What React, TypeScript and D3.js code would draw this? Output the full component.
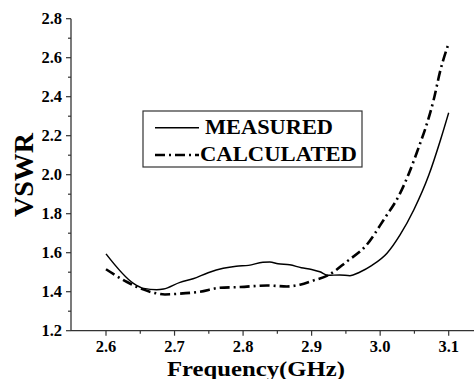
import React, { useEffect, useRef } from 'react';
import * as d3 from 'd3';

// frequency (GHz) / VSWR
const measuredFreq = [2.6, 2.64, 2.655, 2.674, 2.684, 2.708, 2.727, 2.749, 2.771, 2.79, 2.808, 2.829, 2.839, 2.851, 2.868, 2.885, 2.9, 2.912, 2.924, 2.941, 2.956, 2.97, 2.988, 3.01, 3.029, 3.049, 3.071, 3.088, 3.1];
const measuredVswr = [1.594, 1.443, 1.417, 1.41, 1.414, 1.448, 1.466, 1.497, 1.52, 1.531, 1.535, 1.551, 1.552, 1.543, 1.538, 1.523, 1.514, 1.502, 1.484, 1.486, 1.482, 1.5, 1.535, 1.597, 1.691, 1.819, 1.998, 2.178, 2.318];

const calcFreq = [2.6, 2.63, 2.65, 2.669, 2.686, 2.708, 2.737, 2.766, 2.796, 2.835, 2.864, 2.883, 2.903, 2.924, 2.951, 2.98, 3.005, 3.029, 3.053, 3.078, 3.088, 3.1];
const calcVswr = [1.515, 1.451, 1.417, 1.395, 1.386, 1.39, 1.4, 1.42, 1.424, 1.432, 1.427, 1.436, 1.458, 1.484, 1.554, 1.639, 1.768, 1.904, 2.109, 2.383, 2.537, 2.674];

const xTicks = [2.6, 2.7, 2.8, 2.9, 3.0, 3.1];
const yTicks = [1.2, 1.4, 1.6, 1.8, 2.0, 2.2, 2.4, 2.6, 2.8];
const legendLabels = ['MEASURED', 'CALCULATED'];

export default function App() {
  const svgRef = useRef<SVGSVGElement>(null);
  const width = 474;
  const height = 379;

  useEffect(() => {
    if (!svgRef.current) return;
    const svg = d3.select(svgRef.current);
    svg.selectAll('*').remove();

    const font = '"Liberation Serif", "Times New Roman", serif';
    const axisColor = '#333';

    const x = d3.scaleLinear().domain([2.6, 3.1]).range([106, 448.7]);
    const y = d3.scaleLinear().domain([1.2, 2.8]).range([330.7, 18.7]);
    const x0 = 71;
    const y0 = y(1.2);

    // axes lines
    svg.append('line').attr('x1', x0).attr('x2', width).attr('y1', y0).attr('y2', y0).attr('stroke', axisColor).attr('stroke-width', 1.3);
    svg.append('line').attr('x1', x0).attr('x2', x0).attr('y1', y(2.8)).attr('y2', y0).attr('stroke', axisColor).attr('stroke-width', 1.3);

    // x ticks (major + minor, outward)
    const xMinor = d3.range(2.55, 3.15, 0.05).filter(v => xTicks.every(t => Math.abs(t - v) > 1e-6));
    svg.append('g').selectAll('line.maj').data(xTicks).join('line')
      .attr('x1', d => x(d)).attr('x2', d => x(d)).attr('y1', y0).attr('y2', y0 + 5)
      .attr('stroke', axisColor).attr('stroke-width', 1.2);
    svg.append('g').selectAll('line.min').data(xMinor.filter(v => x(v) > x0 + 2 && x(v) < width)).join('line')
      .attr('x1', d => x(d)).attr('x2', d => x(d)).attr('y1', y0).attr('y2', y0 + 3)
      .attr('stroke', axisColor).attr('stroke-width', 1.2);
    svg.append('g').selectAll('text').data(xTicks).join('text')
      .attr('x', d => x(d)).attr('y', 351.5).attr('text-anchor', 'middle')
      .style('font-family', font).style('font-weight', 'bold').style('font-size', '16.5px')
      .text(d => d.toFixed(1));

    // y ticks
    const yMinor = d3.range(1.3, 2.8, 0.2);
    svg.append('g').selectAll('line').data(yTicks).join('line')
      .attr('x1', x0 - 5).attr('x2', x0).attr('y1', d => y(d)).attr('y2', d => y(d))
      .attr('stroke', axisColor).attr('stroke-width', 1.2);
    svg.append('g').selectAll('line').data(yMinor).join('line')
      .attr('x1', x0 - 3).attr('x2', x0).attr('y1', d => y(d)).attr('y2', d => y(d))
      .attr('stroke', axisColor).attr('stroke-width', 1.2);
    svg.append('g').selectAll('text').data(yTicks).join('text')
      .attr('x', 62).attr('y', d => y(d) + 5.5).attr('text-anchor', 'end')
      .style('font-family', font).style('font-weight', 'bold').style('font-size', '16.5px')
      .text(d => d.toFixed(1));

    // axis titles
    svg.append('text').attr('x', 256).attr('y', 375.5).attr('text-anchor', 'middle')
      .attr('textLength', 178).attr('lengthAdjust', 'spacingAndGlyphs')
      .style('font-family', font).style('font-weight', 'bold').style('font-size', '21px')
      .text('Frequency(GHz)');
    svg.append('text').attr('transform', 'translate(33,175) rotate(-90)').attr('text-anchor', 'middle')
      .style('font-family', font).style('font-weight', 'bold').style('font-size', '28px')
      .text('VSWR');

    // curves
    const line = d3.line<[number, number]>().x(d => x(d[0])).y(d => y(d[1])).curve(d3.curveMonotoneX);
    const measured = measuredFreq.map((f, i) => [f, measuredVswr[i]] as [number, number]);
    const calc = calcFreq.map((f, i) => [f, calcVswr[i]] as [number, number]);
    svg.append('path').datum(calc).attr('fill', 'none').attr('stroke', '#000').attr('stroke-width', 2.6)
      .attr('stroke-dasharray', '10,4,2,4').attr('d', line);
    svg.append('path').datum(measured).attr('fill', 'none').attr('stroke', '#000').attr('stroke-width', 1.5)
      .attr('d', line);

    // legend
    const lg = svg.append('g');
    lg.append('rect').attr('x', 143).attr('y', 111).attr('width', 219).attr('height', 56)
      .attr('fill', '#fff').attr('stroke', axisColor).attr('stroke-width', 1.2);
    lg.append('line').attr('x1', 155).attr('x2', 199).attr('y1', 127.7).attr('y2', 127.7)
      .attr('stroke', '#000').attr('stroke-width', 1.5);
    lg.append('line').attr('x1', 155).attr('x2', 199).attr('y1', 155).attr('y2', 155)
      .attr('stroke', '#000').attr('stroke-width', 2.6).attr('stroke-dasharray', '10,4,2,4');
    lg.append('text').attr('x', 205).attr('y', 133.5).attr('textLength', 128).attr('lengthAdjust', 'spacingAndGlyphs')
      .style('font-family', font).style('font-weight', 'bold').style('font-size', '21.5px').text(legendLabels[0]);
    lg.append('text').attr('x', 200).attr('y', 160.5).attr('textLength', 157).attr('lengthAdjust', 'spacingAndGlyphs')
      .style('font-family', font).style('font-weight', 'bold').style('font-size', '21.5px').text(legendLabels[1]);
  }, []);

  return (
    <div style={{ position: 'absolute', left: 0, top: 0, background: '#fff' }}>
      <svg ref={svgRef} width={width} height={height} viewBox={`0 0 ${width} ${height}`} style={{ display: 'block' }} />
    </div>
  );
}
